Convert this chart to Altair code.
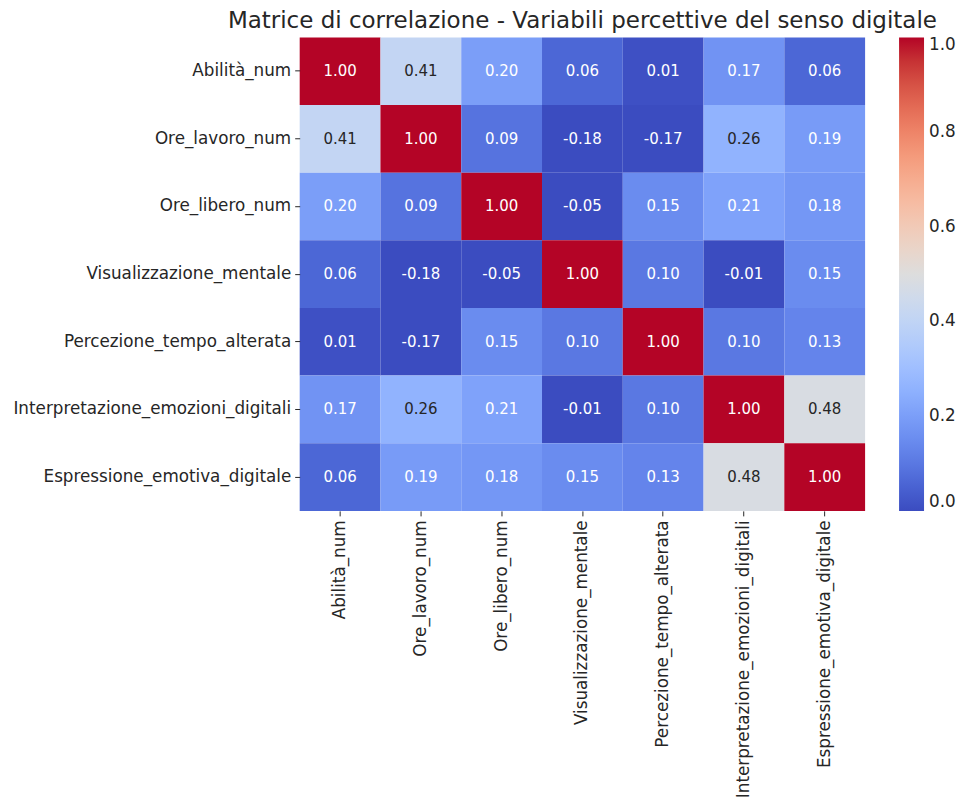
import altair as alt
import pandas as pd

variables = [
    "Abilità_num",
    "Ore_lavoro_num",
    "Ore_libero_num",
    "Visualizzazione_mentale",
    "Percezione_tempo_alterata",
    "Interpretazione_emozioni_digitali",
    "Espressione_emotiva_digitale",
]

corr = [
    [1.00, 0.41, 0.20, 0.06, 0.01, 0.17, 0.06],
    [0.41, 1.00, 0.09, -0.18, -0.17, 0.26, 0.19],
    [0.20, 0.09, 1.00, -0.05, 0.15, 0.21, 0.18],
    [0.06, -0.18, -0.05, 1.00, 0.10, -0.01, 0.15],
    [0.01, -0.17, 0.15, 0.10, 1.00, 0.10, 0.13],
    [0.17, 0.26, 0.21, -0.01, 0.10, 1.00, 0.48],
    [0.06, 0.19, 0.18, 0.15, 0.13, 0.48, 1.00],
]

rows = []
for i, r in enumerate(variables):
    for j, c in enumerate(variables):
        rows.append({"row": r, "col": c, "value": corr[i][j]})
df = pd.DataFrame(rows)

stops = [i / 16 for i in range(17)]
coolwarm = [
    "#3b4cc0", "#4d68d7", "#6282ea", "#779af7", "#8db0fe", "#a3c2ff",
    "#b8d0f9", "#ccd9ee", "#dddddd", "#ecd3c5", "#f5c4ad", "#f7b194",
    "#f49a7b", "#ec7f63", "#de604d", "#cb3e38", "#b40426",
]

base = alt.Chart(df).encode(
    x=alt.X("col:N", sort=variables, title=None,
            axis=alt.Axis(labelAngle=270, labelAlign="right", labelBaseline="middle",
                          labelFontSize=16.8, labelColor="#262626", domain=False, labelLimit=0,
                          ticks=True, tickSize=5, tickColor="#262626", labelPadding=4)),
    y=alt.Y("row:N", sort=variables, title=None,
            axis=alt.Axis(labelFontSize=16.8, labelColor="#262626", domain=False, labelLimit=0,
                          ticks=True, tickSize=5, tickColor="#262626", labelPadding=4)),
)

heat = base.mark_rect(strokeWidth=0).encode(
    color=alt.Color("value:Q",
                    scale=alt.Scale(domain=stops, range=coolwarm, clamp=True, interpolate="rgb"),
                    legend=alt.Legend(title=None, orient="right", offset=34,
                                      gradientLength=474, gradientThickness=25,
                                      gradientStrokeWidth=0, labelFontSize=16.8,
                                      labelColor="#262626", format=".1f",
                                      values=[0, 0.2, 0.4, 0.6, 0.8, 1.0],
                                      labelOffset=5, padding=0)),
)

text = base.transform_calculate(
    label="replace(format(datum.value, '.2f'), '\u2212', '-')"
).mark_text(fontSize=15, font="DejaVu Sans").encode(
    text=alt.Text("label:N"),
    color=alt.condition("datum.value > 0.24 && datum.value < 0.8",
                        alt.value("#262626"), alt.value("white")),
)

chart = (heat + text).properties(
    width=566, height=474,
    padding={"left": 4, "top": 2, "right": 0, "bottom": 0},
    title=alt.Title("Matrice di correlazione - Variabili percettive del senso digitale",
                    fontSize=23, fontWeight="normal", color="#262626", offset=4,
                    font="DejaVu Sans"),
).configure(font="DejaVu Sans").configure_view(stroke=None).configure_scale(bandPaddingInner=0)

chart.save("out.html", embed_options={"renderer": "svg", "actions": False})
